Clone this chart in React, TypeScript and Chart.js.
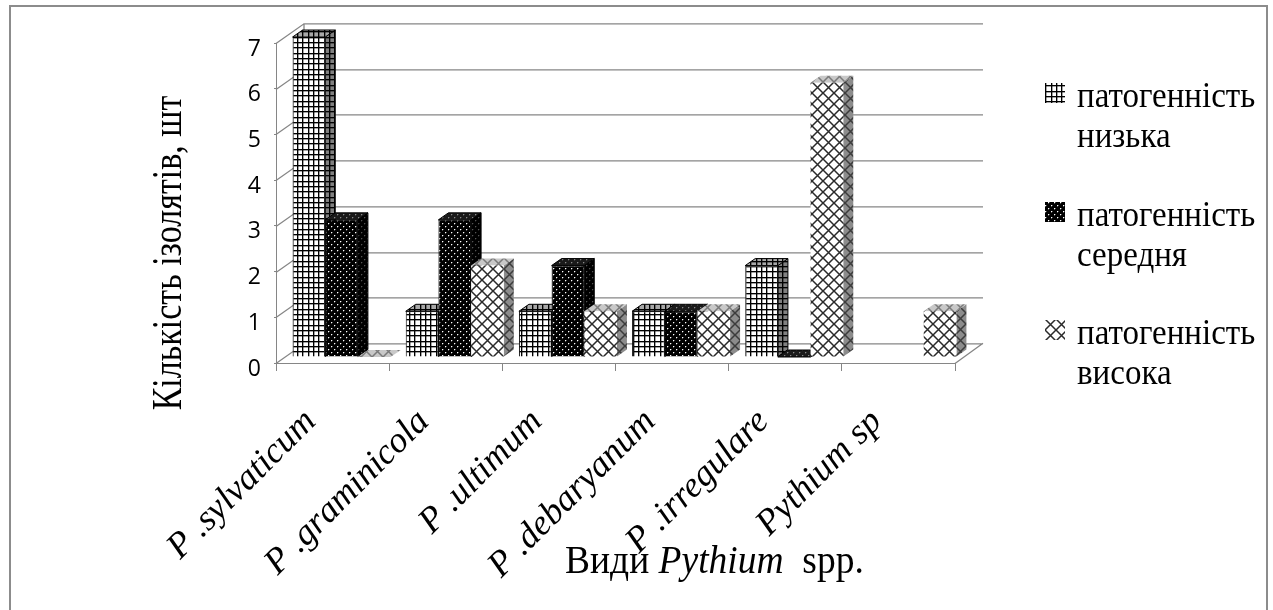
import React, { useEffect, useRef } from "react";
import { Chart, registerables } from "chart.js";

Chart.register(...registerables);

const categories = ["P .sylvaticum", "P .graminicola", "P .ultimum", "P .debaryanum", "P .irregulare", "Pythium sp"];
const seriesNames = ["патогенність низька", "патогенність середня", "патогенність висока"];
const legendLines = [["патогенність", "низька"], ["патогенність", "середня"], ["патогенність", "висока"]];
const lowValues = [7, 1, 1, 1, 2, null];
const midValues = [3, 3, 2, 1, 0, null];
const highValues = [0, 2, 1, 1, 6, 1];
const yTicks = [0, 7];

const DX = 10, DY = -7;   // bar depth
const PX = 9, PY = -6;  // bar plane offset from front axes
const WX = 28, WY = -19.7; // wall depth
const GRID = "#868686";
const SERIF = '"Liberation Serif", serif';

function tile(w: number, h: number, draw: (c: CanvasRenderingContext2D) => void) {
  const cv = document.createElement("canvas");
  cv.width = w; cv.height = h;
  const c = cv.getContext("2d")!;
  draw(c);
  return document.createElement("canvas").getContext("2d")!.createPattern(cv, "repeat")!;
}
function gridTile(bg: string, fg: string) {
  return tile(16, 16, (c) => {
    c.fillStyle = bg; c.fillRect(0, 0, 16, 16);
    c.fillStyle = fg;
    for (const p of [0, 5, 11]) {
      c.globalAlpha = 1; c.fillRect(0, p, 16, 1); c.fillRect(p, 0, 1, 16);
      c.globalAlpha = 0.35; c.fillRect(0, p + 1, 16, 1); c.fillRect(p + 1, 0, 1, 16);
    }
  });
}
function dotTile(bg: string, fg: string) {
  return tile(6, 6, (c) => {
    c.fillStyle = bg; c.fillRect(0, 0, 6, 6);
    c.fillStyle = fg;
    c.fillRect(1, 1, 1, 1); c.fillRect(4, 4, 1, 1);
    c.globalAlpha = 0.3;
    c.fillRect(2, 1, 1, 1); c.fillRect(5, 4, 1, 1);
    c.fillRect(1, 2, 1, 1); c.fillRect(4, 5, 1, 1);
  });
}
function crossTile(bg: string, fg: string) {
  return tile(11, 11, (c) => {
    c.fillStyle = bg; c.fillRect(0, 0, 11, 11);
    c.strokeStyle = fg; c.lineWidth = 1.5;
    c.beginPath();
    c.moveTo(0, 0); c.lineTo(11, 11);
    c.moveTo(11, 0); c.lineTo(0, 11);
    c.stroke();
  });
}

const makers = [gridTile, dotTile, crossTile];
const frontColors = [["#ffffff", "#000000"], ["#000000", "#ffffff"], ["#ffffff", "#2a2a2a"]];
const topColors = [["#a8a8a8", "#000000"], ["#1a1a1a", "#8a8a8a"], ["#c8c8c8", "#7a7a7a"]];
const sideColors = [["#808080", "#000000"], ["#000000", "#555555"], ["#8c8c8c", "#3c3c3c"]];

let pats: any = null;

const decor = {
  id: "decor",
  beforeDraw(chart: any) {
    const { ctx } = chart;
    ctx.save();
    ctx.fillStyle = "#fff";
    ctx.fillRect(0, 0, chart.width, chart.height);
    ctx.strokeStyle = "#8c8c8c";
    ctx.lineWidth = 2;
    ctx.strokeRect(10, 6, 1257, 620);
    ctx.restore();
  },
  beforeDatasetsDraw(chart: any) {
    const { ctx, chartArea: a, scales } = chart;
    const y = scales.y;
    ctx.save();
    ctx.strokeStyle = GRID;
    ctx.lineWidth = 1.3;
    ctx.beginPath();
    for (const t of y.ticks) {
      const p = Math.round(y.getPixelForValue(t.value)) + 0.5;
      ctx.moveTo(a.left, p);
      ctx.lineTo(a.left + WX, p + WY);
      ctx.lineTo(a.right + WX, p + WY);
    }
    ctx.moveTo(a.left + WX, a.top + WY);
    ctx.lineTo(a.left + WX, a.bottom + WY);
    ctx.moveTo(a.right, a.bottom + 0.5);
    ctx.lineTo(a.right + WX, a.bottom + WY);
    ctx.stroke();
    ctx.restore();

    // Draw series left to right, so each bar's front covers its neighbour's side.
    chart.data.datasets.forEach((ds: any, i: number) => {
      const meta = chart.getDatasetMeta(i);
      ctx.save();
      ctx.translate(PX, PY);
      meta.data.forEach((el: any, k: number) => {
        if (ds.data[k] == null) return;
        const { x, y: vy, base, width } = el.getProps(["x", "y", "base", "width"], true);
        const l = x - width / 2, r = x + width / 2;
        ctx.strokeStyle = "#000";
        ctx.lineWidth = 1;
        if (base - vy > 0) {
          ctx.beginPath();
          ctx.moveTo(r, vy); ctx.lineTo(r + DX, vy + DY); ctx.lineTo(r + DX, base + DY); ctx.lineTo(r, base); ctx.closePath();
          ctx.fillStyle = pats.side[i]; ctx.fill();
          if (i !== 2) ctx.stroke();
        }
        ctx.beginPath();
        ctx.moveTo(l, vy); ctx.lineTo(l + DX, vy + DY); ctx.lineTo(r + DX, vy + DY); ctx.lineTo(r, vy); ctx.closePath();
        ctx.fillStyle = pats.top[i]; ctx.fill();
        if (i !== 2) ctx.stroke();
      });
      meta.controller.draw();
      ctx.restore();
    });
    return false;
  },
  afterDraw(chart: any) {
    const { ctx } = chart;
    ctx.save();
    ctx.fillStyle = "#000";
    ctx.textBaseline = "alphabetic";

    ctx.save();
    ctx.translate(181, 253);
    ctx.rotate(-Math.PI / 2);
    ctx.scale(1, 1.22);
    ctx.textAlign = "center";
    ctx.font = `34px ${SERIF}`;
    ctx.fillText("Кількість ізолятів, шт", 0, 0);
    ctx.restore();

    ctx.textAlign = "left";
    let x = 565;
    const parts: [string, string][] = [["Види ", "normal"], ["Pythium", "italic"], ["  spp.", "normal"]];
    for (const [s, st] of parts) {
      ctx.font = `${st} 37.5px ${SERIF}`;
      ctx.save();
      ctx.translate(x, 573);
      ctx.scale(1, 1.06);
      ctx.fillText(s, 0, 0);
      ctx.restore();
      x += ctx.measureText(s).width;
    }

    ctx.font = `33px ${SERIF}`;
    const rowsY = [107, 226, 344];
    legendLines.forEach((lines, i) => {
      const base = rowsY[i];
      ctx.fillStyle = pats.front[i];
      ctx.fillRect(1045, base - 24, 20, 20);
      ctx.fillStyle = "#000";
      lines.forEach((line, j) => {
        ctx.save();
        ctx.translate(1077, base + j * 39.5);
        ctx.scale(1, 1.1);
        ctx.fillText(line, 0, 0);
        ctx.restore();
      });
    });
    ctx.restore();
  },
};

export default function App() {
  const ref = useRef<HTMLCanvasElement>(null);
  useEffect(() => {
    pats = {
      front: makers.map((m, i) => m(frontColors[i][0], frontColors[i][1])),
      top: makers.map((m, i) => m(topColors[i][0], topColors[i][1])),
      side: makers.map((m, i) => m(sideColors[i][0], sideColors[i][1])),
    };
    const mk = (i: number, data: (number | null)[]) => ({
      label: seriesNames[i],
      data,
      backgroundColor: pats.front[i],
      borderColor: "#000",
      borderWidth: i === 2 ? 0 : 1,
      categoryPercentage: 0.866,
      barPercentage: 1,
    });
    const chart = new Chart(ref.current!, {
      type: "bar",
      data: {
        labels: categories,
        datasets: [mk(0, lowValues), mk(1, midValues), mk(2, highValues)],
      },
      options: {
        animation: false,
        responsive: false,
        layout: { padding: { left: 0, top: 43, right: 318, bottom: 0 } },
        plugins: { legend: { display: false }, title: { display: false }, tooltip: { enabled: false } },
        scales: {
          x: {
            afterFit: (s: any) => { s.height = 247; },
            grid: { drawOnChartArea: false, color: GRID, tickLength: 8 },
            border: { color: GRID },
            ticks: {
              autoSkip: false, minRotation: 45, maxRotation: 45, padding: 30, labelOffset: -22,
              color: "#000",
              font: { family: '"Liberation Serif"', style: "italic", size: 36 },
            },
          },
          y: {
            min: yTicks[0], max: yTicks[1],
            afterFit: (s: any) => { s.width = 276; },
            grid: { drawOnChartArea: false, color: GRID, tickLength: 2 },
            border: { color: GRID },
            ticks: { stepSize: 1, padding: 13, labelOffset: 6, color: "#000", font: { family: '"Open Sans"', size: 23 } },
          },
        },
      },
      plugins: [decor],
    } as any);
    return () => chart.destroy();
  }, []);
  return (
    <div style={{ position: "fixed", left: 0, top: 0, width: 1273, height: 610 }}>
      <canvas ref={ref} width={1273} height={610} style={{ display: "block" }} />
    </div>
  );
}
